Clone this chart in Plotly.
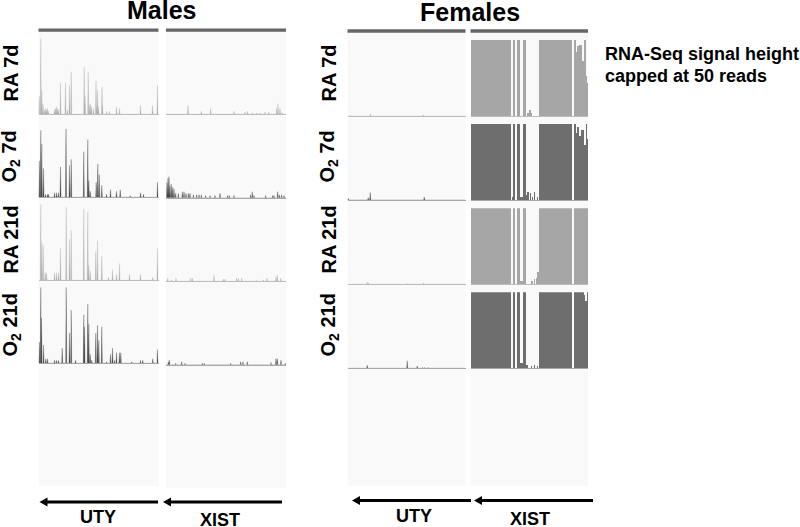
import plotly.graph_objects as go

W, H = 800, 527
FONT = "Liberation Sans"
RA_PEAK, O2_PEAK = "#b0b0b0", "#484848"
RA_BLOCK, O2_BLOCK = "#a6a6a6", "#6e6e6e"

# --- Male UTY (position along panel, signal height in reads; capped at 50)
m_uty_ra7_x = [0.7,2.3,3.3,4.5,6,7,8,9,10,16,17,18,19,20,22,27,29,31,32.7,45.7,46.5,49.7,51,52,53,55,57.5,58.5,59,60,63.5,64,68,71,78,81,102,114,119]
m_uty_ra7_y = [12,50,16,7,3,4,3,4,2,3,4,5,4,3,21,21,3,19,28,31,12,28,6,7,5,4,22,5,16,5,18,6,2,2,5,4,6,6,19]
m_uty_o7_x = [0.8,2.3,3.3,5,7,9,10,16,18,20,22,27.5,31,32.7,45.3,49.3,50.3,51.7,57.7,59.3,60.7,63.3,68,72,78,81.7,91.7,102,105,119]
m_uty_o7_y = [24,44,35,19,2,2,2,3,3,3,20,45,21,25,30,38,11,4,10,22,15,8,2,5,4,5,1,3,2,10]
m_uty_ra21_x = [2.3,3.3,4.7,6.7,8,16,18,20,22,27.7,31,32.7,45.3,49.3,50.3,51.7,57.3,59,63.3,70,74,78,81,91,102,114.3,119]
m_uty_ra21_y = [50,25,23,5,5,5,5,5,21,48,27,33,47,45,10,6,19,26,16,2,7,4,11,4,4,2,21]
m_uty_o21_x = [0.8,2.3,3,5,7.3,9,16,18,20,23.7,27.7,31,32.7,37,45.3,46,49.3,50.3,51.7,53.3,57.3,59,60.3,63.3,68,72,74,76,78,81,82.3,93.3,102,104.3,114.3,119]
m_uty_o21_y = [14,50,30,12,3,3,2,2,2,10,50,20,35,2,32,24,39,26,6,2,20,25,15,24,1,6,10,2,7,7,7,1,2,2,3,9]

# --- Male XIST
m_xist_ra7_x = [22,35.3,44.7,68,79,81.3,86.7,90.7,94,99,102.7,110.7,112,114,116]
m_xist_ra7_y = [6,2,4,2,1.5,2,1,1,1,1.5,1.5,4,7,4,1]
m_xist_o7_x = [1,2,3,4,5.3,6.7,8,9.7,12.3,16.3,18,20,22.3,24,27.3,30.7,33,35.3,39.7,44,49,54,61.7,63.3,68,84.7,86.3,88,99.7,106.7,108,111.7,113.3,115.7,118]
m_xist_o7_y = [10,13,14,8,9,7,6,3,3,4,4,3,3,3,2,2,2,2,1.5,1.5,1.5,3,1.5,1.5,1.5,2,4,1.5,1.5,1.5,1.5,4,2,2,1.5]
m_xist_ra21_x = [1.7,5.7,10,24.7,26.3,48,57.3,59,70.7,72.3,75.7,90.7,97.3,101,110,111.3,114.7]
m_xist_ra21_y = [2,1,2,2,2,4,1.5,1.5,2,2,2,0.5,1,2,3,4,2]
m_xist_o21_x = [2.3,3.3,9.7,15.7,19,36.3,38.3,64.7,74.7,77,81.3,105,110,111.3,115,119.3]
m_xist_o21_y = [2,3,1,2,1,1,1,1,2,2,2,1.5,4,4,3,1]

# --- Female UTY
f_uty_ra7_x = [23,75.7]
f_uty_ra7_y = [1.5,0.7]
f_uty_o7_x = [0.7,20.7,22.7,76.7]
f_uty_o7_y = [1,1.5,5,2]
f_uty_ra21_x = [19.7,21,59.7,76]
f_uty_ra21_y = [1.5,1,0.7,1]
f_uty_o21_x = [19.7,59.7,69.7,75,77.3,80.7]
f_uty_o21_y = [2,5,1.5,0.5,0.5,0.5]

# --- Female XIST: covered spans (start, end) with height
f_xist_ra7_start = [0,42.5,45.5,51.5,56.5,58,60,68,102.5,105,106.5,108,111,113.5,115,116]
f_xist_ra7_end = [39.5,44,48.5,54.5,57.5,60,61,101,105,106.5,108,111,113.5,115,116,117]
f_xist_ra7_h = [50,50,50,50,2,4,2,50,50,42,46,47,36,50,26,22]
f_xist_o7_start = [0,42.5,45.5,51.5,41,48.5,54.5,56.7,59,61,63,66,68,102.5,104.5,106.5,108,110,113,115,116]
f_xist_o7_end = [39.5,44,48.5,54.5,42.5,51.5,56,57.7,60,61.6,64,66.6,101,104.5,106.5,108,110,113,115,116,117]
f_xist_o7_h = [50,50,50,50,2,2,3,5,4.5,2,5.5,2,50,50,44,48,42,46,36,50,40]
f_xist_ra21_start = [0,42.5,45.5,51.5,48.5,60,63,65.5,66.5,68,102.5]
f_xist_ra21_end = [39.5,44,48.5,54.5,51.5,61.5,64,66.5,68,101,116.5]
f_xist_ra21_h = [50,50,50,50,2,2,3,4,8,50,50]
f_xist_o21_start = [0,42.5,45.5,51.5,48.5,54.5,60,63,66,68,102.5,113,114,115.5,116.5]
f_xist_o21_end = [39.5,44,48.5,54.5,51.5,57,61,64,67,101,113,114,115.5,116.5,117]
f_xist_o21_h = [50,50,50,50,3,2,1,2,1,50,50,48,44,38,50]

row_labels = ["RA 7d", "O<sub>2</sub> 7d", "RA 21d", "O<sub>2</sub> 21d"]
group_titles = ["Males", "Females"]
gene_labels = ["UTY", "XIST"]
note_lines = ["RNA-Seq signal height", "capped at 50 reads"]


def px(x):
    return x / W


def py(y):
    return 1 - y / H


fig = go.Figure()
layout = {}
n = [0]


def panel(x0, x1, base, kind, color, linecolor, d):
    n[0] += 1
    i = n[0]
    sfx = "" if i == 1 else str(i)
    w = x1 - x0
    if kind == "peak":
        xs, ys = d
        # every peak is a narrow filled spike rising from the baseline
        px_, py_ = [0], [0]
        for a, b in sorted(zip(xs, ys)):
            px_ += [a - 0.55, a, a + 0.55]
            py_ += [0, b, 0]
        px_.append(w)
        py_.append(0)
        fig.add_trace(go.Scatter(x=px_, y=py_, mode="lines", fill="tozeroy", fillcolor=color,
                                 line=dict(color=color, width=0.3, simplify=False), hoverinfo="skip",
                                 xaxis="x" + sfx, yaxis="y" + sfx, showlegend=False))
    else:
        st, en, hs = d
        fig.add_trace(go.Bar(x=[(a + b) / 2 for a, b in zip(st, en)], y=hs,
                             width=[b - a for a, b in zip(st, en)], hoverinfo="skip",
                             marker=dict(color=color, line=dict(width=0)),
                             xaxis="x" + sfx, yaxis="y" + sfx, showlegend=False))
    layout["xaxis" + sfx] = dict(domain=[px(x0), px(x1)], range=[0, w], anchor="y" + sfx, visible=True,
                                 showticklabels=False, ticks="", showgrid=False, zeroline=False,
                                 showline=True, linecolor=linecolor, linewidth=1)
    layout["yaxis" + sfx] = dict(domain=[py(base), py(base - 76)], range=[0, 50], anchor="x" + sfx, visible=False,
                                 showgrid=False, zeroline=False)


cols = [
    (38.5, 158.5, [114.3, 197.3, 280.3, 363.3], "peak",
     [(m_uty_ra7_x, m_uty_ra7_y), (m_uty_o7_x, m_uty_o7_y), (m_uty_ra21_x, m_uty_ra21_y), (m_uty_o21_x, m_uty_o21_y)]),
    (166, 286, [114.3, 197.8, 281.3, 364.7], "peak",
     [(m_xist_ra7_x, m_xist_ra7_y), (m_xist_o7_x, m_xist_o7_y), (m_xist_ra21_x, m_xist_ra21_y), (m_xist_o21_x, m_xist_o21_y)]),
    (347.5, 465.5, [116, 200, 284.3, 368.3], "peak",
     [(f_uty_ra7_x, f_uty_ra7_y), (f_uty_o7_x, f_uty_o7_y), (f_uty_ra21_x, f_uty_ra21_y), (f_uty_o21_x, f_uty_o21_y)]),
    (470.5, 588, [116, 200, 284.3, 368.3], "block",
     [(f_xist_ra7_start, f_xist_ra7_end, f_xist_ra7_h), (f_xist_o7_start, f_xist_o7_end, f_xist_o7_h),
      (f_xist_ra21_start, f_xist_ra21_end, f_xist_ra21_h), (f_xist_o21_start, f_xist_o21_end, f_xist_o21_h)]),
]

shapes = []
for (x0, x1, bases, kind, data), top, bg_end in zip(cols, [28.4, 28.4, 29.3, 29.3], [486, 488, 486, 486]):
    shapes.append(dict(type="rect", xref="paper", yref="paper", x0=px(x0), x1=px(x1), y0=py(bg_end), y1=py(top + 3),
                       fillcolor="#f9f9f9", line_width=0, layer="below"))
    shapes.append(dict(type="rect", xref="paper", yref="paper", x0=px(x0), x1=px(x1), y0=py(top + 3.4), y1=py(top),
                       fillcolor="#666666", line_width=0))
    for r, (b, d) in enumerate(zip(bases, data)):
        ra = r % 2 == 0
        if kind == "peak":
            c = RA_PEAK if ra else O2_PEAK
        else:
            c = RA_BLOCK if ra else O2_BLOCK
        panel(x0, x1, b, kind, c, "#bdbdbd" if ra else "#a8a8a8", d)

ann = []


def text(x, y, s, size, angle=0, anchor="center"):
    ann.append(dict(xref="paper", yref="paper", x=px(x), y=py(y), text=s, showarrow=False, textangle=angle,
                    xanchor=anchor, yanchor="middle", font=dict(family=FONT, size=size, color="#000000")))


text(161, 10, "<b>%s</b>" % group_titles[0], 25)
text(470, 12, "<b>%s</b>" % group_titles[1], 25)
for lbl, ym, yf in zip(row_labels, [73, 157, 240, 325], [73, 157, 240, 325]):
    text(10.5, ym, "<b>%s</b>" % lbl, 20, angle=-90)
    text(328.5, yf, "<b>%s</b>" % lbl, 20, angle=-90)
text(603, 54, "<b>%s</b>" % note_lines[0], 18, anchor="left")
text(603, 75.5, "<b>%s</b>" % note_lines[1], 18, anchor="left")

for g, x, y in [(0, 98, 517), (1, 220, 520), (0, 414, 516), (1, 530, 519)]:
    text(x, y, "<b>%s</b>" % gene_labels[g], 18)

# gene direction arrows: shaft plus triangular head
for tip, tail, y in [(39.5, 158, 502), (163, 282, 502), (352, 471, 500.5), (474, 593, 500.5)]:
    shapes.append(dict(type="line", xref="paper", yref="paper", x0=px(tip + 6), x1=px(tail), y0=py(y), y1=py(y),
                       line=dict(color="#000000", width=3)))
    shapes.append(dict(type="path", xref="paper", yref="paper", fillcolor="#000000", line_width=0,
                       path="M %f %f L %f %f L %f %f Z" % (px(tip), py(y), px(tip + 8), py(y - 4.5), px(tip + 8), py(y + 4.5))))

fig.update_layout(width=W, height=H, margin=dict(l=0, r=0, t=0, b=0), paper_bgcolor="#ffffff", plot_bgcolor="rgba(0,0,0,0)",
                  barmode="overlay", shapes=shapes, annotations=ann, bargap=0, hovermode=False, **layout)
fig.write_html("out.html", config={"displayModeBar": False},
               post_script="document.body.style.margin='0';document.body.style.overflow='hidden';")
